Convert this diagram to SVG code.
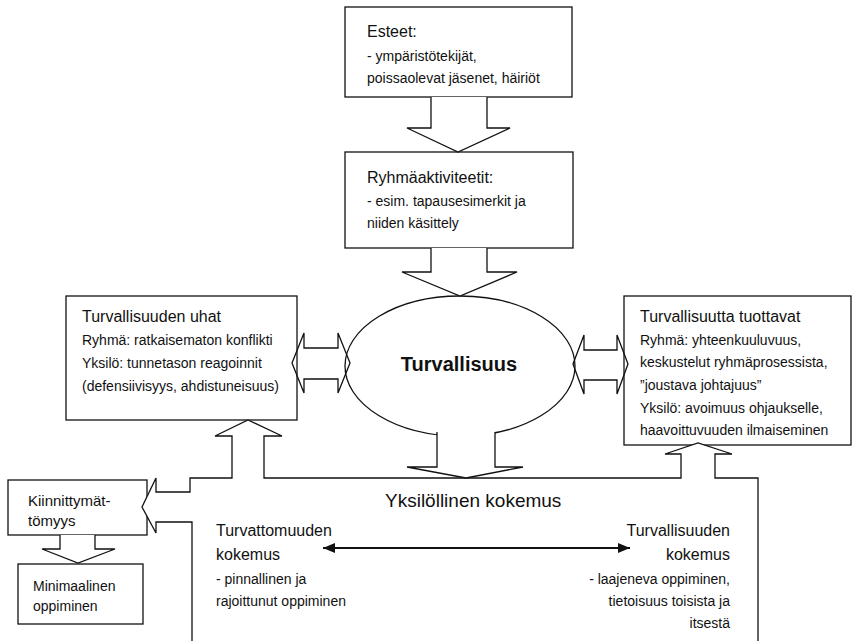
<svg xmlns="http://www.w3.org/2000/svg" width="853" height="641" viewBox="0 0 853 641">
<defs>
<style>
.box{fill:#fff;stroke:#111;stroke-width:1.3}
.arr{fill:#fff;stroke:#111;stroke-width:1.3;stroke-linejoin:miter}
.open{fill:none;stroke:#111;stroke-width:1.3}
text{font-family:"Liberation Sans",Arial,sans-serif;fill:#111}
.h{font-size:16px}
.b{font-size:14px}
.m{font-size:15px}
</style>
<marker id="head" markerUnits="userSpaceOnUse" markerWidth="13" markerHeight="10" refX="12" refY="5" orient="auto-start-reverse">
<path d="M0,0 L12,5 L0,10 Z" fill="#111"/>
</marker>
</defs>
<rect width="853" height="641" fill="#fff"/>

<g id="node-esteet">
<rect class="box" x="345" y="7" width="227" height="90"/>
<text class="h" x="367" y="37">Esteet:</text>
<text class="b" x="367" y="61">- ympäristötekijät,</text>
<text class="b" x="367" y="83">poissaolevat jäsenet, häiriöt</text>
</g>

<g id="node-ryhmaaktiviteetit">
<rect class="box" x="345" y="152" width="228" height="96"/>
<text class="h" x="367" y="183">Ryhmäaktiviteetit:</text>
<text class="b" x="367" y="206">- esim. tapausesimerkit ja</text>
<text class="b" x="367" y="228">niiden käsittely</text>
</g>

<g id="node-uhat">
<rect class="box" x="66" y="296" width="231" height="124"/>
<text class="h" x="82" y="322">Turvallisuuden uhat</text>
<text class="b" x="82" y="345">Ryhmä: ratkaisematon konflikti</text>
<text class="b" x="82" y="368">Yksilö: tunnetason reagoinnit</text>
<text class="b" x="82" y="391">(defensiivisyys, ahdistuneisuus)</text>
</g>

<g id="node-tuottavat">
<rect class="box" x="624" y="296" width="227" height="149"/>
<text class="h" x="640" y="322">Turvallisuutta tuottavat</text>
<text class="b" x="640" y="345">Ryhmä: yhteenkuuluvuus,</text>
<text class="b" x="640" y="367">keskustelut ryhmäprosessista,</text>
<text class="b" x="640" y="390">”joustava johtajuus”</text>
<text class="b" x="640" y="413">Yksilö: avoimuus ohjaukselle,</text>
<text class="b" x="640" y="435">haavoittuvuuden ilmaiseminen</text>
</g>

<g id="node-kiinnittymattomyys">
<rect class="box" x="8" y="480" width="139" height="55"/>
<text class="m" x="28" y="506">Kiinnittymät-</text>
<text class="m" x="28" y="526">tömyys</text>
</g>

<g id="node-minimaalinen">
<rect class="box" x="18" y="564" width="125" height="60"/>
<text class="b" x="33" y="591">Minimaalinen</text>
<text class="b" x="33" y="611">oppiminen</text>
</g>

<g id="node-yksilollinen">
<path class="arr" d="M248,420 L282,436 L264,436 L264,478 L681,478 L681,454 L665,454 L698,443 L732,454 L715,454 L715,478 L758,478 L758,650 L192,650 L192,522 L156,522 L156,533 L142,507 L156,478 L156,492 L190,492 L190,478 L232,478 L232,436 L215,436 Z"/>
<text x="385" y="507" font-size="19">Yksilöllinen kokemus</text>
<text class="h" x="216" y="536">Turvattomuuden</text>
<text class="h" x="216" y="560">kokemus</text>
<text class="b" x="216" y="584">- pinnallinen ja</text>
<text class="b" x="216" y="606">rajoittunut oppiminen</text>
<text class="h" x="730" y="536" text-anchor="end">Turvallisuuden</text>
<text class="h" x="730" y="560" text-anchor="end">kokemus</text>
<text class="b" x="730" y="584" text-anchor="end">- laajeneva oppiminen,</text>
<text class="b" x="730" y="606" text-anchor="end">tietoisuus toisista ja</text>
<text class="b" x="730" y="628" text-anchor="end">itsestä</text>
</g>

<g id="node-turvallisuus">
<ellipse class="box" cx="460" cy="366" rx="115" ry="70"/>
<text x="459" y="371" font-size="20" font-weight="bold" text-anchor="middle">Turvallisuus</text>
</g>

<g id="connectors">
<path class="arr" d="M431,97 L431,128 L407,128 L458,152 L510,128 L487,128 L487,97"/>
<path class="arr" d="M431,248 L431,272 L402,272 L460,296 L517,272 L487,272 L487,248"/>
<path class="arr" d="M437,432 L437,467 L407,467 L466,478 L523,467 L495,467 L495,432"/>
<path class="open" d="M292,363 L304,333 L304,348 L338,348 L338,333 L350,363 L338,393 L338,379 L304,379 L304,393 Z"/>
<path class="open" d="M573,364 L584,335 L584,350 L617,350 L617,335 L628,364 L617,394 L617,380 L584,380 L584,394 Z"/>
<path class="arr" d="M60,535 L60,549 L42,549 L78,563 L115,549 L95,549 L95,535"/>
<line x1="323" y1="548" x2="630" y2="548" stroke="#111" stroke-width="2" marker-start="url(#head)" marker-end="url(#head)"/>
</g>
</svg>
